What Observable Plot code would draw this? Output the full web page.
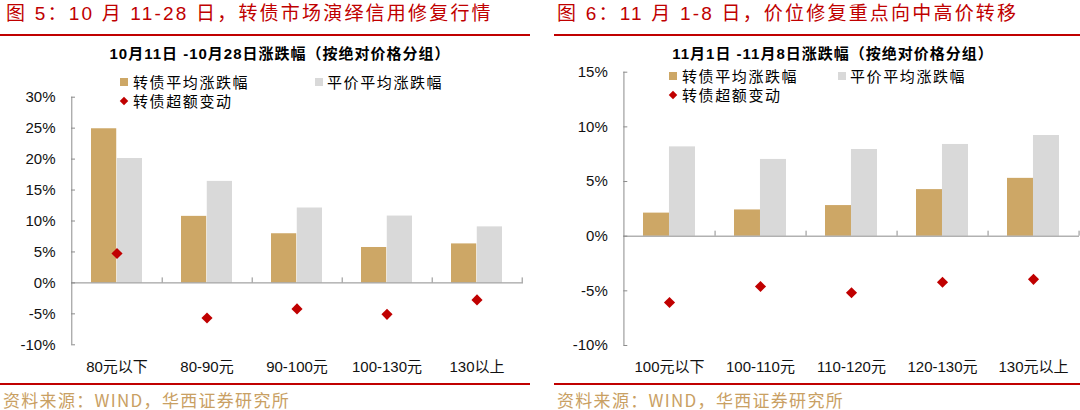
<!DOCTYPE html>
<html><head><meta charset="utf-8">
<script src="https://cdn.jsdelivr.net/npm/d3@7"></script>
<script src="https://cdn.jsdelivr.net/npm/@observablehq/plot@0.6"></script>
<style>
body{margin:0;width:1080px;height:410px;position:relative;overflow:hidden;background:#fff;font-family:"Liberation Sans","Noto Sans CJK SC",sans-serif;}
.abs{position:absolute;white-space:nowrap;}
.rtitle{color:#C00000;font-size:19px;line-height:22px;letter-spacing:2.2px;font-family:"Liberation Sans","Noto Sans CJK SC",sans-serif;}
.rline{background:#C00000;height:2px;}
.ctitle{font-weight:bold;font-size:15px;line-height:18px;transform:translateX(-50%);letter-spacing:1px;color:#000;}
.leg{font-size:15px;line-height:16px;letter-spacing:1.6px;color:#000;font-family:"Noto Sans CJK SC",sans-serif;}
.sq{width:8px;height:8px;}
.dia{width:6px;height:6px;background:#C00000;transform:rotate(45deg);}
.src{color:#C9A063;font-size:17px;line-height:20px;letter-spacing:1.3px;font-family:"Noto Sans CJK SC",sans-serif;}
.plot{position:absolute;top:0;}
</style></head>
<body>
<div id="root"></div>
<script>
// ---- data: left panel (10月11日-10月28日) ----
const leftCats = ["80元以下","80-90元","90-100元","100-130元","130以上"];
const leftBond = [24.9, 10.75, 7.94, 5.72, 6.3];
const leftParity = [20.1, 16.4, 12.1, 10.8, 9.05];
const leftExcess = [4.75, -5.67, -4.2, -5.08, -2.75];
const leftYTicks = [-10,-5,0,5,10,15,20,25,30];

// ---- data: right panel (11月1日-11月8日) ----
const rightCats = ["100元以下","100-110元","110-120元","120-130元","130元以上"];
const rightBond = [2.11, 2.4, 2.8, 4.26, 5.29];
const rightParity = [8.17, 7.02, 7.93, 8.39, 9.21];
const rightExcess = [-6.06, -4.6, -5.17, -4.22, -3.95];
const rightYTicks = [-10,-5,0,5,10,15];

const seriesNames = ["转债平均涨跌幅","平价平均涨跌幅","转债超额变动"];
const leftTitle = "图 5：10 月 11-28 日，转债市场演绎信用修复行情";
const rightTitle = "图 6：11 月 1-8 日，价位修复重点向中高价转移";
const leftChartTitle = "10月11日 -10月28日涨跌幅（按绝对价格分组）";
const rightChartTitle = "11月1日 -11月8日涨跌幅（按绝对价格分组）";
const sourceText = "资料来源：WIND，华西证券研究所";

const BOND = "#CDA766", PARITY = "#D9D9D9", RED = "#C00000", AXIS = "#8C8C8C";

function panel(cats, bond, parity, excess, yTicks, m) {
  const W = 540, H = 410;
  const rows = cats.map((c, i) => ({cat: c, bond: bond[i], parity: parity[i], excess: excess[i]}));
  const innerW = W - m.left - m.right, innerH = H - m.top - m.bottom;
  const pad = 0.43;
  const step = innerW / cats.length;
  const bw = step * (1 - pad);
  const yDom = [yTicks[0], yTicks[yTicks.length - 1]];
  const pctPerPx = (yDom[1] - yDom[0]) / innerH;
  return Plot.plot({
    width: W, height: H,
    marginLeft: m.left, marginRight: m.right, marginTop: m.top, marginBottom: m.bottom,
    x: {type: "band", domain: cats, paddingInner: pad, paddingOuter: pad / 2, axis: null},
    y: {domain: yDom, axis: null},
    style: {background: "transparent", fontFamily: "'Liberation Sans','Noto Sans CJK SC',sans-serif", overflow: "visible"},
    marks: [
      Plot.barY(rows, {x: "cat", y: "bond", fill: BOND, insetRight: bw / 2}),
      Plot.barY(rows, {x: "cat", y: "parity", fill: PARITY, insetLeft: bw / 2}),
      Plot.ruleY([0], {stroke: AXIS, strokeWidth: 1}),
      Plot.ruleX(cats, {x: d => d, dx: step / 2, y1: 0, y2: 5 * pctPerPx, stroke: AXIS}),
      Plot.ruleX([cats[0]], {x: d => d, dx: -step / 2, y1: yDom[0], y2: yDom[1], stroke: AXIS}),
      Plot.ruleY(yTicks, {y: d => d, insetRight: innerW - 4, stroke: AXIS}),
      Plot.dot(rows, {x: "cat", y: "excess", symbol: "diamond2", r: 5, fill: RED}),
      Plot.text(yTicks, {y: d => d, frameAnchor: "left", dx: -16, textAnchor: "end", text: d => d + "%", fontSize: 15, fill: "#111"}),
      Plot.text(cats, {x: d => d, y: yDom[0], dy: 22, text: d => d, fontSize: 15, fill: "#111"})
    ]
  });
}

const root = document.getElementById("root");
function add(html) { root.insertAdjacentHTML("beforeend", html); }

const leftPlot = panel(leftCats, leftBond, leftParity, leftExcess, leftYTicks, {left: 71, right: 17, top: 96.7, bottom: 65.7});
leftPlot.classList.add("plot"); leftPlot.style.left = "0px";
root.appendChild(leftPlot);
const rightPlot = panel(rightCats, rightBond, rightParity, rightExcess, rightYTicks, {left: 83.3, right: 1, top: 71.7, bottom: 65});
rightPlot.classList.add("plot"); rightPlot.style.left = "540px";
root.appendChild(rightPlot);

// titles & rules
add(`<div class="abs rtitle" style="left:6px;top:3px">${leftTitle}</div>`);
add(`<div class="abs rtitle" style="left:557px;top:3px">${rightTitle}</div>`);
add(`<div class="abs rline" style="left:0px;top:34px;width:530px"></div>`);
add(`<div class="abs rline" style="left:554px;top:34px;width:526px"></div>`);
add(`<div class="abs rline" style="left:0px;top:383px;width:530px"></div>`);
add(`<div class="abs rline" style="left:554px;top:383px;width:526px"></div>`);
add(`<div class="abs src" style="left:3px;top:390px">${sourceText}</div>`);
add(`<div class="abs src" style="left:557px;top:390px">${sourceText}</div>`);
add(`<div class="abs ctitle" style="left:280px;top:45px">${leftChartTitle}</div>`);
add(`<div class="abs ctitle" style="left:833px;top:45px">${rightChartTitle}</div>`);

// legends
function legend(x1, x2, y1, y2) {
  add(`<div class="abs sq" style="left:${x1}px;top:${y1 - 4}px;background:${BOND}"></div>`);
  add(`<div class="abs leg" style="left:${x1 + 13}px;top:${y1 - 8}px">${seriesNames[0]}</div>`);
  add(`<div class="abs sq" style="left:${x2}px;top:${y1 - 4}px;background:${PARITY}"></div>`);
  add(`<div class="abs leg" style="left:${x2 + 12}px;top:${y1 - 8}px">${seriesNames[1]}</div>`);
  add(`<div class="abs dia" style="left:${x1 + 1}px;top:${y2 - 3}px"></div>`);
  add(`<div class="abs leg" style="left:${x1 + 13}px;top:${y2 - 8}px">${seriesNames[2]}</div>`);
}
legend(120, 315, 82, 101);
legend(669, 838, 76, 95);
</script>
</body></html>
